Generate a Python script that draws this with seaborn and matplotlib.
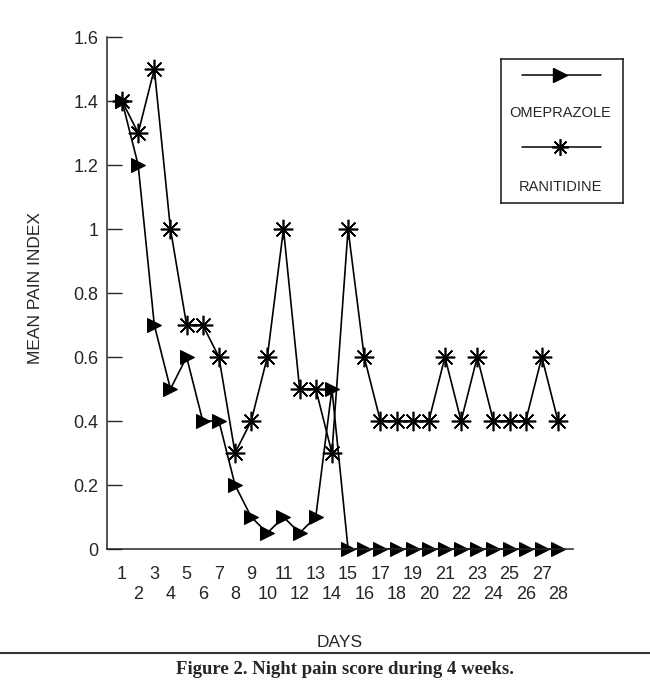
import matplotlib
matplotlib.use('Agg')
import matplotlib.pyplot as plt
import seaborn as sns
from matplotlib import font_manager
from matplotlib.lines import Line2D

days = list(range(1, 29))
omeprazole = [1.4, 1.2, 0.7, 0.5, 0.6, 0.4, 0.4, 0.2, 0.1, 0.05, 0.1, 0.05, 0.1, 0.5,
              0, 0, 0, 0, 0, 0, 0, 0, 0, 0, 0, 0, 0, 0]
ranitidine = [1.4, 1.3, 1.5, 1.0, 0.7, 0.7, 0.6, 0.3, 0.4, 0.6, 1.0, 0.5, 0.5, 0.3,
              1.0, 0.6, 0.4, 0.4, 0.4, 0.4, 0.6, 0.4, 0.6, 0.4, 0.4, 0.4, 0.6, 0.4]
y_ticks = [0, 0.2, 0.4, 0.6, 0.8, 1.0, 1.2, 1.4, 1.6]
y_tick_labels = ['0', '0.2', '0.4', '0.6', '0.8', '1', '1.2', '1.4', '1.6']
series_names = ['OMEPRAZOLE', 'RANITIDINE']

sns.set_style('ticks')
installed = {f.name for f in font_manager.fontManager.ttflist}
narrow = 'Liberation Sans Narrow' if 'Liberation Sans Narrow' in installed else 'Liberation Sans'
plt.rcParams['font.family'] = [narrow, 'DejaVu Sans']

star = (8, 2, 0)

fig = plt.figure(figsize=(6.5, 6.91), dpi=100)
ax = fig.add_axes([107 / 650, 1 - 549 / 691, 466 / 650, 512 / 691])

sns.lineplot(x=days, y=ranitidine, ax=ax, color='black', lw=1.2, marker=star,
             markersize=14, markeredgewidth=1.2, markeredgecolor='black', clip_on=False)
sns.lineplot(x=days, y=omeprazole, ax=ax, color='black', lw=1.2, marker='>',
             markersize=10, markeredgecolor='black', markerfacecolor='black', clip_on=False)

ax.set_xlim(0.07, 28.93)
ax.set_ylim(0, 1.6)
ax.set_yticks(y_ticks)
ax.set_yticklabels(y_tick_labels)
ax.tick_params(axis='y', direction='in', length=11, width=1, labelsize=13, pad=6)

odd_days = [d for d in days if d % 2 == 1]
even_days = [d for d in days if d % 2 == 0]
ax.set_xticks(odd_days)
ax.set_xticklabels([str(d) for d in odd_days])
ax.set_xticks(even_days, minor=True)
ax.set_xticklabels([str(d) for d in even_days], minor=True)
ax.tick_params(axis='x', which='major', length=0, labelsize=13, pad=12)
ax.tick_params(axis='x', which='minor', length=0, labelsize=13, pad=26.5)

for side in ['top', 'right']:
    ax.spines[side].set_visible(False)
ax.spines['left'].set_linewidth(1.1)
ax.spines['bottom'].set_linewidth(1.1)

ax.set_ylabel('MEAN PAIN INDEX', fontsize=12.5)
ax.yaxis.set_label_coords(-64 / 466, (549 - 288) / 512)
ax.set_xlabel('DAYS', fontsize=12.5)
ax.xaxis.set_label_coords((340 - 107) / 466, -(635 - 549) / 512)

# legend box drawn by hand: line with marker, name centred underneath
leg = fig.add_axes([501 / 650, 1 - 203 / 691, 122 / 650, 144 / 691])
leg.set_xlim(501, 623)
leg.set_ylim(203, 59)
leg.set_xticks([])
leg.set_yticks([])
for s in leg.spines.values():
    s.set_linewidth(1.2)
leg.add_line(Line2D([522, 601], [75, 75], color='black', lw=1.1))
leg.plot([560], [75], marker='>', color='black', markersize=10)
leg.text(560, 113, series_names[0], ha='center', va='center', fontsize=10.5)
leg.add_line(Line2D([522, 601], [147, 147], color='black', lw=1.1))
leg.plot([560], [147], marker=star, color='black', markersize=12, markeredgewidth=1.2)
leg.text(560, 187, series_names[1], ha='center', va='center', fontsize=10.5)

# caption under a rule
fig.add_artist(Line2D([0, 1], [1 - 653 / 691, 1 - 653 / 691], color='#333333', lw=1.5))
fig.text(0.53, 1 - 669 / 691, 'Figure 2. Night pain score during 4 weeks.', ha='center',
         va='center', fontsize=13.5, fontweight='bold', family=['Liberation Serif', 'DejaVu Serif'])

fig.savefig('out.png', dpi=100)
